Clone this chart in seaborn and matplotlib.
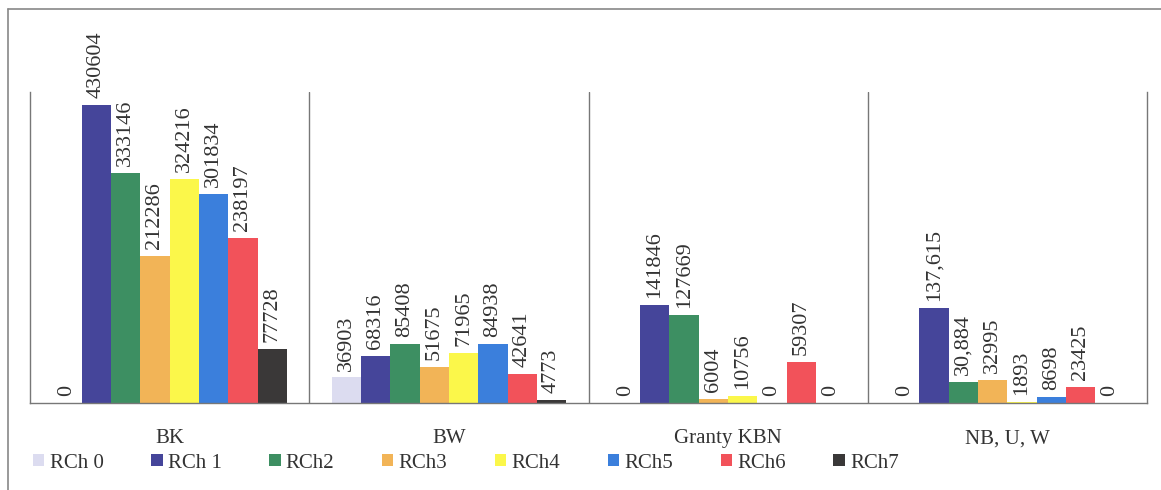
import matplotlib
matplotlib.use("Agg")
import matplotlib.pyplot as plt
import matplotlib.patches as mpatches
import seaborn as sns
import pandas as pd

# Funding sources (categories) and research units (series)
groups = ["BK", "BW", "Granty KBN", "NB, U, W"]
series = ["RCh 0", "RCh 1", "RCh2", "RCh3", "RCh4", "RCh5", "RCh6", "RCh7"]

rch0 = [0, 36903, 0, 0]
rch1 = [430604, 68316, 141846, 137615]
rch2 = [333146, 85408, 127669, 30884]
rch3 = [212286, 51675, 6004, 32995]
rch4 = [324216, 71965, 10756, 1893]
rch5 = [301834, 84938, 0, 8698]
rch6 = [238197, 42641, 59307, 23425]
rch7 = [77728, 4773, 0, 0]

# NB, U, W values are printed with a comma in the original (e.g. 137,615 -> 137615)
label_text = {("NB, U, W", "RCh 1"): "137,615", ("NB, U, W", "RCh2"): "30,884"}

colors = ["#dcdcf0", "#45459a", "#3d8f62", "#f2b457",
          "#fbf74a", "#3b7fdc", "#f2525a", "#3a3838"]

values = [rch0, rch1, rch2, rch3, rch4, rch5, rch6, rch7]
rows = []
for s, vals in zip(series, values):
    for g, v in zip(groups, vals):
        rows.append({"group": g, "series": s, "value": v})
df = pd.DataFrame(rows)

sns.set_theme(style="white")
plt.rcParams["font.family"] = ["Liberation Serif", "DejaVu Serif"]

fig = plt.figure(figsize=(11.61, 4.90), dpi=100)
ax = fig.add_axes([30 / 1161, 1 - 403 / 490, (1147 - 30) / 1161, (403 - 92) / 490])

sns.barplot(data=df, x="group", y="value", hue="series", order=groups,
            hue_order=series, palette=colors, width=0.84, gap=0,
            saturation=1, linewidth=0, ax=ax, legend=False, errorbar=None)

ax.set_xlim(-0.5, 3.5)
ax.set_ylim(0, 450000)

# Value labels above each bar, rotated vertically
for container, s in zip(ax.containers, series):
    labels = []
    for g, bar in zip(groups, container):
        v = int(round(bar.get_height()))
        labels.append(label_text.get((g, s), str(v)))
    ax.bar_label(container, labels=labels, rotation=90, padding=5,
                 fontsize=16, color="#333333")

# Axis styling: baseline, left edge and category separators
ax.spines["top"].set_visible(False)
for side in ["left", "right", "bottom"]:
    ax.spines[side].set_color("#777777")
    ax.spines[side].set_linewidth(1.0)
for xb in [0.5, 1.5, 2.5]:
    ax.axvline(xb, color="#777777", linewidth=1.0)

ax.set_yticks([])
ax.set_ylabel("")
ax.set_xlabel("")
ax.set_xticks(range(len(groups)))
ax.set_xticklabels(groups, fontsize=15, color="#333333")
ax.tick_params(axis="x", which="major", length=0, pad=19)
ax.set_xticks([-0.5, 0.5, 1.5, 2.5, 3.5], minor=True)
ax.tick_params(axis="x", which="minor", length=6, width=1.0,
               color="#777777", direction="out")

# Legend row beneath the categories
handles = [mpatches.Patch(facecolor=c, edgecolor="none", label=s)
           for s, c in zip(series, colors)]
fig.legend(handles=handles, loc="center left", ncol=8,
           bbox_to_anchor=(33 / 1161, 1 - 463 / 490), frameon=False,
           fontsize=15, handlelength=0.55, handleheight=0.55,
           handletextpad=0.25, columnspacing=2.28, borderaxespad=0,
           borderpad=0, labelcolor="#333333")

# Outer chart frame
fig.add_artist(plt.Line2D([8 / 1161, 8 / 1161], [0, 1 - 9 / 490],
                          transform=fig.transFigure, color="#888888", lw=1.2))
fig.add_artist(plt.Line2D([8 / 1161, 1], [1 - 9 / 490, 1 - 9 / 490],
                          transform=fig.transFigure, color="#888888", lw=1.2))

fig.savefig("out.png", dpi=100, facecolor="white")
